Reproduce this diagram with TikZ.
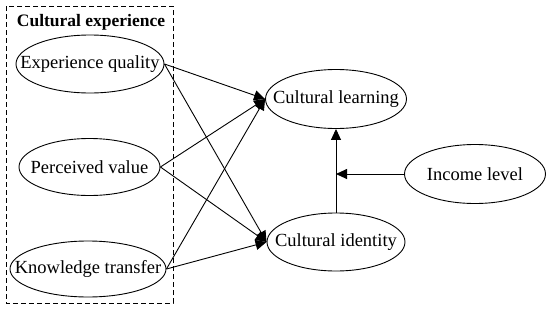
\documentclass[tikz,border=0pt]{standalone}
\usepackage{fontspec}
\setmainfont{Liberation Serif}
\usetikzlibrary{shapes.geometric,arrows.meta}
\begin{document}
\begin{tikzpicture}[x=1pt,y=-1pt,
  var/.style={ellipse,draw,line width=0.9pt,inner sep=0pt},
  lbl/.style={font=\fontsize{18.5}{20}\selectfont},
  conn/.style={line width=0.9pt,-{Triangle[length=11pt,width=10pt]}}]
\useasboundingbox (0,0) rectangle (550,309);
\draw[line width=0.8pt,dash pattern=on 5pt off 3pt] (6,6) rectangle (173,303);
\node[font=\bfseries\fontsize{17.5}{19}\selectfont] (title) at (91,22) {Cultural experience};
\node[var,minimum width=148pt,minimum height=58pt,label={[lbl]center:Experience quality}] (eq) at (90,64) {};
\node[var,minimum width=141pt,minimum height=57pt,label={[lbl]center:Perceived value}] (pv) at (89.5,167) {};
\node[var,minimum width=156pt,minimum height=56pt,label={[lbl]center:Knowledge transfer}] (kt) at (88,269) {};
\node[var,minimum width=141pt,minimum height=59pt,label={[lbl]center:Cultural learning}] (cl) at (336,99) {};
\node[var,minimum width=138pt,minimum height=58pt,label={[lbl]center:Cultural identity}] (ci) at (336,242) {};
\node[var,minimum width=141pt,minimum height=59pt,label={[lbl]center:Income level}] (il) at (475,174) {};
\coordinate (mod) at (cl.south |- il.west);
\foreach \s in {eq,pv,kt}{
  \draw[conn] (\s.east) -- (cl.west);
  \draw[conn] (\s.east) -- (ci.west);
}
\draw[conn] (ci.north) -- (cl.south);
\draw[conn] (il.west) -- (mod);
\end{tikzpicture}
\end{document}
